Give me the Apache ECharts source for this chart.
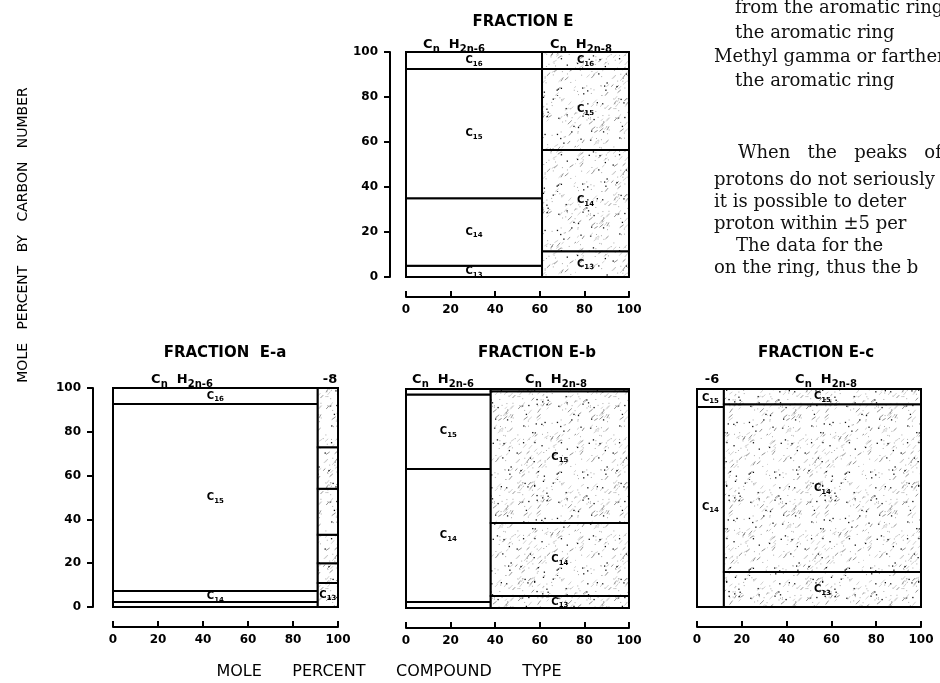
<!DOCTYPE html>
<html><head><meta charset="utf-8">
<script src="https://cdn.jsdelivr.net/npm/echarts@6/dist/echarts.min.js"></script>
<style>html,body{margin:0;padding:0;background:#fff}#c{width:940px;height:683px}</style>
</head><body><div id="c"></div>
<script>
// ---------------- DATA ----------------
const xTickValues = [0, 20, 40, 60, 80, 100];
const yTickValues = [0, 20, 40, 60, 80, 100];
const compoundTypes = ['CnH2n-6', 'CnH2n-8'];

// Fraction E
const E_typeShare = [61, 39];
const E_m6_carbons = ['C13', 'C14', 'C15', 'C16'];
const E_m6_values = [5, 30, 57.5, 7.5];
const E_m8_carbons = ['C13', 'C14', 'C15', 'C16'];
const E_m8_values = [11.5, 45, 36, 7.5];

// Fraction E-a
const Ea_typeShare = [91, 9];
const Ea_m6_carbons = ['C13', 'C14', 'C15', 'C16'];
const Ea_m6_values = [2.3, 5, 85.4, 7.3];
const Ea_m8_carbons = ['C13', '', '', '', '', ''];
const Ea_m8_values = [11, 9, 13, 21, 19, 27];

// Fraction E-b
const Eb_typeShare = [38, 62];
const Eb_m6_carbons = ['C13', 'C14', 'C15', 'C16'];
const Eb_m6_values = [2.7, 60.8, 34, 2.5];
const Eb_m8_carbons = ['C13', 'C14', 'C15', 'C16'];
const Eb_m8_values = [5.5, 33.3, 60.2, 1];

// Fraction E-c
const Ec_typeShare = [12, 88];
const Ec_m6_carbons = ['C14', 'C15'];
const Ec_m6_values = [91.7, 8.3];
const Ec_m8_carbons = ['C13', 'C14', 'C15'];
const Ec_m8_values = [16, 77, 7];

// ---------------- HELPERS ----------------
const SANS = '"DejaVu Sans", sans-serif';
const SERIF = '"DejaVu Serif", serif';

function makeStipple() {
  const N = 96;
  const c = document.createElement('canvas');
  c.width = N; c.height = N;
  const g = c.getContext('2d');
  g.fillStyle = '#fff'; g.fillRect(0, 0, N, N);
  let s = 987654;
  const r = () => { s = (s * 1103515245 + 12345) & 0x7fffffff; return s / 0x7fffffff; };
  for (let i = 0; i < 330; i++) {
    const x = r() * N, y = r() * N, t = r();
    if (t < 0.22) { g.fillStyle = '#111'; g.fillRect(x, y, 1.3, 1.3); }
    else if (t < 0.6) { g.fillStyle = '#aaa'; g.fillRect(x, y, 1, 1); }
    else {
      g.strokeStyle = t < 0.75 ? '#666' : '#bbb'; g.lineWidth = 0.7;
      g.beginPath(); g.moveTo(x, y); g.lineTo(x + 2 + r() * 2, y - 2 - r() * 2); g.stroke();
    }
  }
  return c;
}
const stipple = makeStipple();

function buildSegs(share, m6c, m6v, m8c, m8v) {
  const segs = [];
  let y = 0;
  m6v.forEach((v, i) => { segs.push({ x0: 0, x1: share[0], y0: y, y1: y + v, label: m6c[i], v: v, type: 0 }); y += v; });
  y = 0;
  m8v.forEach((v, i) => { segs.push({ x0: share[0], x1: 100, y0: y, y1: y + v, label: m8c[i], v: v, type: 1 }); y += v; });
  return segs;
}
function carbonRich(lbl) { return '{c|C}{s|' + lbl.slice(1) + '}'; }
const labelRich = {
  c: { fontSize: 10, fontFamily: SANS, fontWeight: 'bold', lineHeight: 14, verticalAlign: 'middle', fill: '#000' },
  s: { fontSize: 7, fontFamily: SANS, fontWeight: 'bold', lineHeight: 7, verticalAlign: 'bottom', fill: '#000' }
};

const panels = [
  { grid: { left: 406, top: 52, width: 223, height: 225 }, segs: buildSegs(E_typeShare, E_m6_carbons, E_m6_values, E_m8_carbons, E_m8_values), y: true, yOffset: 16 },
  { grid: { left: 113, top: 388, width: 225, height: 219 }, segs: buildSegs(Ea_typeShare, Ea_m6_carbons, Ea_m6_values, Ea_m8_carbons, Ea_m8_values), y: true, yOffset: 20 },
  { grid: { left: 406, top: 389, width: 223, height: 219 }, segs: buildSegs(Eb_typeShare, Eb_m6_carbons, Eb_m6_values, Eb_m8_carbons, Eb_m8_values), y: false, yOffset: 0 },
  { grid: { left: 697, top: 389, width: 224, height: 218 }, segs: buildSegs(Ec_typeShare, Ec_m6_carbons, Ec_m6_values, Ec_m8_carbons, Ec_m8_values), y: false, yOffset: 0 }
];

const axisLabelStyle = { color: '#000', fontFamily: SANS, fontWeight: 'bold', fontSize: 12 };

const grids = [], xAxes = [], yAxes = [], series = [];
panels.forEach((p, i) => {
  grids.push(Object.assign({ containLabel: false }, p.grid));
  xAxes.push({
    gridIndex: i, type: 'value', min: 0, max: 100, interval: 20, offset: 20, position: 'bottom',
    axisLine: { show: true, onZero: false, lineStyle: { color: '#000', width: 2 } },
    axisTick: { show: true, inside: true, length: 6, lineStyle: { color: '#000', width: 2 } },
    axisLabel: Object.assign({ margin: 7, customValues: xTickValues }, axisLabelStyle),
    splitLine: { show: false }
  });
  yAxes.push({
    gridIndex: i, type: 'value', min: 0, max: 100, interval: 20, show: p.y, offset: p.yOffset, position: 'left',
    axisLine: { show: true, onZero: false, lineStyle: { color: '#000', width: 2 } },
    axisTick: { show: true, inside: false, length: 6, lineStyle: { color: '#000', width: 2 } },
    axisLabel: Object.assign({ margin: 12, customValues: yTickValues }, axisLabelStyle),
    splitLine: { show: false }
  });
  const segs = p.segs;
  series.push({
    type: 'custom', xAxisIndex: i, yAxisIndex: i, silent: true,
    data: segs.map(s => [s.x0, s.x1, s.y0, s.y1]),
    encode: { x: [0, 1], y: [2, 3] },
    renderItem: function (params, api) {
      const s = segs[params.dataIndex];
      const a = api.coord([api.value(0), api.value(3)]);
      const b = api.coord([api.value(1), api.value(2)]);
      const children = [{
        type: 'rect',
        shape: { x: a[0], y: a[1], width: b[0] - a[0], height: b[1] - a[1] },
        style: { fill: s.type ? { image: stipple, repeat: 'repeat' } : '#fff', stroke: '#000', lineWidth: 2 }
      }];
      if (s.label && s.v >= 3) {
        children.push({
          type: 'text', x: (a[0] + b[0]) / 2, y: (a[1] + b[1]) / 2,
          style: { text: carbonRich(s.label), rich: labelRich, align: 'center', verticalAlign: 'middle' }
        });
      }
      return { type: 'group', children: children };
    }
  });
});

// ---------------- TEXTS ----------------
const subRich = {
  c: { fontSize: 13, fontFamily: SANS, fontWeight: 'bold', lineHeight: 18, verticalAlign: 'middle', fill: '#000' },
  s: { fontSize: 10, fontFamily: SANS, fontWeight: 'bold', lineHeight: 9, verticalAlign: 'bottom', fill: '#000' }
};
function formula(t) { // 'CnH2n-6' -> rich
  return '{c|C}{s|n}{c|  H}{s|' + t.slice(3) + '}';
}
function txt(x, y, text, font, extra) {
  return Object.assign({ type: 'text', x: x, y: y, silent: true,
    style: { text: text, font: font, fill: '#000', align: 'center', verticalAlign: 'middle' } }, extra || {});
}
function rtxt(x, y, text) {
  return { type: 'text', x: x, y: y, silent: true,
    style: { text: text, rich: subRich, align: 'center', verticalAlign: 'middle' } };
}
const titleFont = 'bold 15px ' + SANS;
const bodyFont = '18px ' + SERIF;
function body(x, y, t) {
  return { type: 'text', x: x, y: y, silent: true, style: { text: t, font: bodyFont, fill: '#111', align: 'left', verticalAlign: 'middle' } };
}

const graphics = [
  txt(523, 22, 'FRACTION E', titleFont),
  rtxt(454, 45, formula(compoundTypes[0])),
  rtxt(581, 45, formula(compoundTypes[1])),
  txt(225, 353, 'FRACTION  E-a', titleFont),
  rtxt(182, 380, formula(compoundTypes[0])),
  rtxt(330, 380, '{c|-8}'),
  txt(537, 353, 'FRACTION E-b', titleFont),
  rtxt(443, 380, formula(compoundTypes[0])),
  rtxt(556, 380, formula(compoundTypes[1])),
  txt(816, 353, 'FRACTION E-c', titleFont),
  rtxt(712, 380, '{c|-6}'),
  rtxt(826, 380, formula(compoundTypes[1])),
  txt(389, 672, 'MOLE      PERCENT      COMPOUND      TYPE', '16px ' + SANS),
  txt(23, 235, 'MOLE   PERCENT   BY   CARBON   NUMBER', '14px ' + SANS, { rotation: Math.PI / 2 }),
  body(735, 8, 'from the aromatic ring'),
  body(735, 33, 'the aromatic ring'),
  body(714, 57, 'Methyl gamma or farther'),
  body(735, 81, 'the aromatic ring'),
  body(738, 153, 'When   the   peaks   of'),
  body(714, 180, 'protons do not seriously'),
  body(714, 202, 'it is possible to deter'),
  body(714, 224, 'proton within \u00b15 per'),
  body(736, 246, 'The data for the'),
  body(714, 268, 'on the ring, thus the b')
];

const chart = echarts.init(document.getElementById('c'), null, { renderer: 'canvas' });
chart.setOption({
  animation: false,
  backgroundColor: '#fff',
  grid: grids,
  xAxis: xAxes,
  yAxis: yAxes,
  series: series,
  graphic: { elements: graphics }
});
</script>
</body></html>
